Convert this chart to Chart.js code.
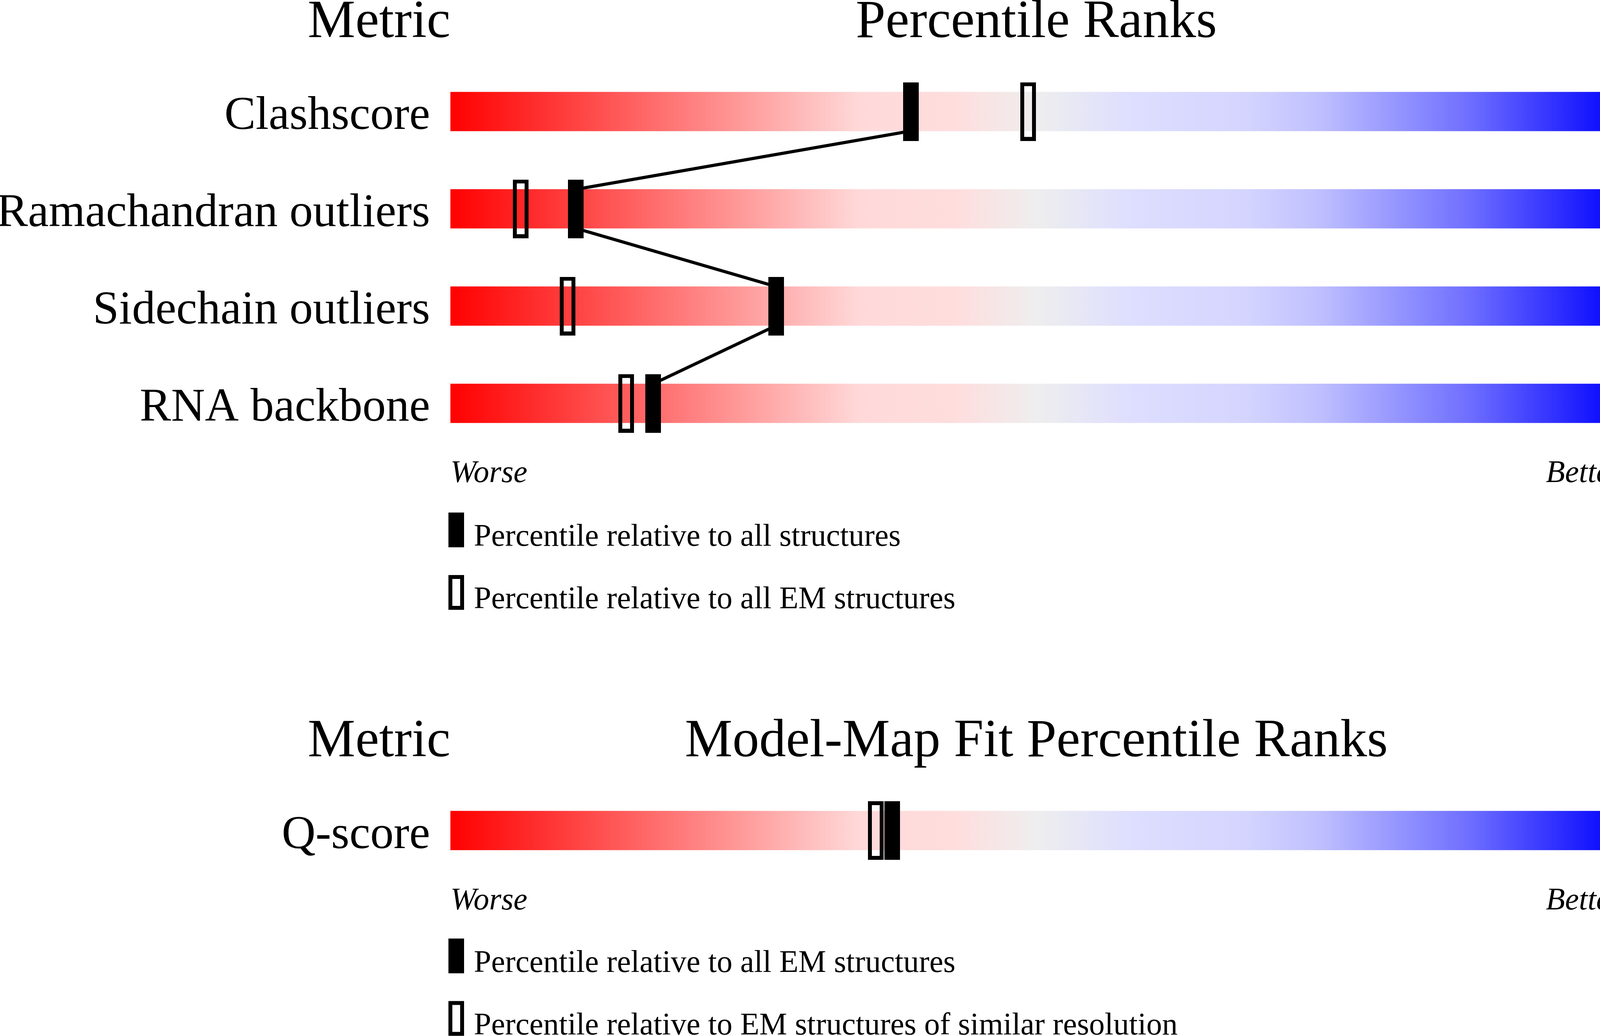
<!DOCTYPE html>
<html>
<head>
<meta charset="utf-8">
<title>Percentile ranks</title>
<script src="https://cdn.jsdelivr.net/npm/chart.js@4.4.1/dist/chart.umd.min.js"></script>
<style>
  html, body { margin: 0; padding: 0; background: #fff; }
  body { width: 4485px; height: 2652px; position: relative; overflow: hidden; }
  canvas { position: absolute; left: 0; }
  #geometry-panel { top: 0; }
  #fit-panel { top: 1640px; }
</style>
</head>
<body>
<canvas id="geometry-panel" width="4485" height="1620"></canvas>
<canvas id="fit-panel" width="4485" height="1012"></canvas>
<script>
// values
const GEOMETRY_METRICS = ["Clashscore", "Ramachandran outliers", "Sidechain outliers", "RNA backbone"];
const GEOMETRY_VALUES = ["7", "1.5%", "4.2%", "0.27"];
const GEOMETRY_PCT_ALL = [39.3, 10.7, 27.8, 17.3];
const GEOMETRY_PCT_EM = [49.3, 6.0, 10.0, 15.0];

const FIT_METRICS = ["Q-score"];
const FIT_VALUES = ["0.397"];
const FIT_PCT_EM = [37.7];
const FIT_PCT_SIMILAR = [36.3];

const TRACK = [0, 100];
const AXIS_ENDS = ["Worse", "Better"];

const SERIF = '"Liberation Serif", "DejaVu Serif", serif';
const GRADIENT_STOPS = [
  [0, "#ff0000"],
  [0.35, "#ffd9d9"],
  [0.43, "#ffdddd"],
  [0.5, "#eeeeee"],
  [0.58, "#dedeff"],
  [0.68, "#d4d4ff"],
  [0.74, "#c0c0ff"],
  [0.8, "#9a9aff"],
  [0.87, "#6e6eff"],
  [1, "#0000ff"],
];

function markerImage(filled) {
  const c = document.createElement("canvas");
  c.width = 40;
  c.height = 150;
  const g = c.getContext("2d");
  g.fillStyle = "#000";
  g.strokeStyle = "#000";
  if (filled) {
    g.fillRect(0, 0, 40, 150);
  } else {
    g.lineWidth = 10;
    g.strokeRect(5, 5, 30, 140);
  }
  return c;
}

function trackGradient(chart) {
  const x = chart.scales.x;
  if (!chart.chartArea || !x) return "#eee";
  const g = chart.ctx.createLinearGradient(x.getPixelForValue(TRACK[0]), 0, x.getPixelForValue(TRACK[1]), 0);
  GRADIENT_STOPS.forEach(([at, col]) => g.addColorStop(at, col));
  return g;
}

// headings above the chart area and the two legend rows below it
const panelText = {
  id: "panelText",
  afterDraw(chart, args, opts) {
    const { ctx, chartArea: a, width } = chart;
    ctx.save();
    ctx.fillStyle = "#000";
    ctx.strokeStyle = "#000";
    ctx.textBaseline = "alphabetic";
    ctx.font = `137px ${SERIF}`;
    const y = a.top - 66;
    ctx.textAlign = "right";
    ctx.fillText("Metric", a.left, y);
    ctx.textAlign = "center";
    ctx.fillText(opts.title, (a.left + a.right) / 2, y);
    ctx.textAlign = "right";
    ctx.fillText("Value", width - 2, y);

    ctx.font = `80px ${SERIF}`;
    ctx.textAlign = "left";
    opts.legend.forEach((text, i) => {
      const top = a.bottom + opts.legendTop + i * 160;
      if (i === 0) {
        ctx.fillRect(a.left - 5, top, 40, 89);
      } else {
        ctx.lineWidth = 10;
        ctx.strokeRect(a.left, top + 5, 30, 79);
      }
      ctx.fillText(text, a.left + 60, top + 85);
    });
    ctx.restore();
  },
};

function buildPanel(canvasId, spec) {
  const n = spec.metrics.length;
  const half = 0.2; // half the track thickness, in row units
  const link = [];
  if (spec.connect) {
    spec.primary.forEach((p, i) => {
      if (i > 0) link.push({ x: p, y: i - half });
      if (i < n - 1) link.push({ x: p, y: i + half });
    });
  }

  const axisFont = { family: SERIF, size: 120 };
  const quiet = { grid: { display: false, drawTicks: false, offset: false }, border: { display: false } };

  return new Chart(document.getElementById(canvasId), {
    type: "bar",
    data: {
      labels: spec.metrics,
      datasets: [
        {
          type: "bar",
          indexAxis: "y",
          data: spec.metrics.map(() => TRACK),
          backgroundColor: (c) => trackGradient(c.chart),
          borderWidth: 0,
          barThickness: 100,
          yAxisID: "y",
          order: 4,
        },
        {
          type: "line",
          data: link,
          yAxisID: "yl",
          borderColor: "#000",
          borderWidth: 8,
          borderJoinStyle: "round",
          pointRadius: 0,
          tension: 0,
          fill: false,
          order: 3,
        },
        {
          type: "scatter",
          data: spec.metrics.map((m, i) => ({ x: spec.secondary[i], y: m })),
          pointStyle: markerImage(false),
          yAxisID: "y",
          order: 2,
        },
        {
          type: "scatter",
          data: spec.metrics.map((m, i) => ({ x: spec.primary[i], y: m })),
          pointStyle: markerImage(true),
          yAxisID: "y",
          order: 1,
        },
      ],
    },
    options: {
      responsive: false,
      devicePixelRatio: 1,
      animation: false,
      events: [],
      layout: { padding: { top: spec.padTop, bottom: spec.padBottom, left: 0, right: 0 } },
      plugins: {
        legend: { display: false },
        tooltip: { enabled: false },
        panelText: { title: spec.title, legend: spec.legend, legendTop: spec.legendTop },
      },
      scales: {
        x: {
          type: "linear",
          min: TRACK[0],
          max: TRACK[1],
          offset: false,
          position: "bottom",
          ...quiet,
          afterBuildTicks: (s) => { s.ticks = TRACK.map((v) => ({ value: v })); },
          afterFit: (s) => { s.height = 100; },
          ticks: {
            autoSkip: false,
            maxRotation: 0,
            align: "inner",
            padding: 8,
            color: "#000",
            font: { family: SERIF, size: 80, style: "italic" },
            callback: (v) => (v === TRACK[0] ? AXIS_ENDS[0] : AXIS_ENDS[1]),
          },
        },
        y: {
          type: "category",
          position: "left",
          offset: true,
          ...quiet,
          afterFit: (s) => { s.width = 1153; },
          ticks: { padding: 52, labelOffset: 13, color: "#000", font: axisFont },
        },
        y2: {
          type: "category",
          labels: spec.values,
          position: "right",
          offset: true,
          ...quiet,
          afterFit: (s) => { s.width = 332; },
          ticks: { padding: 52, labelOffset: 13, color: "#000", font: axisFont },
        },
        yl: { type: "linear", display: false, offset: false, min: -0.5, max: n - 0.5, reverse: true },
      },
    },
    plugins: [panelText],
  });
}

document.addEventListener("DOMContentLoaded", () => {
  Chart.defaults.font.family = SERIF;
  Chart.defaults.color = "#000";

  buildPanel("geometry-panel", {
    metrics: GEOMETRY_METRICS,
    values: GEOMETRY_VALUES,
    primary: GEOMETRY_PCT_ALL,
    secondary: GEOMETRY_PCT_EM,
    connect: true,
    title: "Percentile Ranks",
    legend: ["Percentile relative to all structures", "Percentile relative to all EM structures"],
    padTop: 161,
    padBottom: 1620 - 100 - 1157,
    legendTop: 155,
  });

  buildPanel("fit-panel", {
    metrics: FIT_METRICS,
    values: FIT_VALUES,
    primary: FIT_PCT_EM,
    secondary: FIT_PCT_SIMILAR,
    connect: false,
    title: "Model-Map Fit Percentile Ranks",
    legend: ["Percentile relative to all EM structures", "Percentile relative to EM structures of similar resolution"],
    padTop: 361.5,
    padBottom: 1012 - 100 - 610.5,
    legendTop: 152,
  });
});
</script>
</body>
</html>
